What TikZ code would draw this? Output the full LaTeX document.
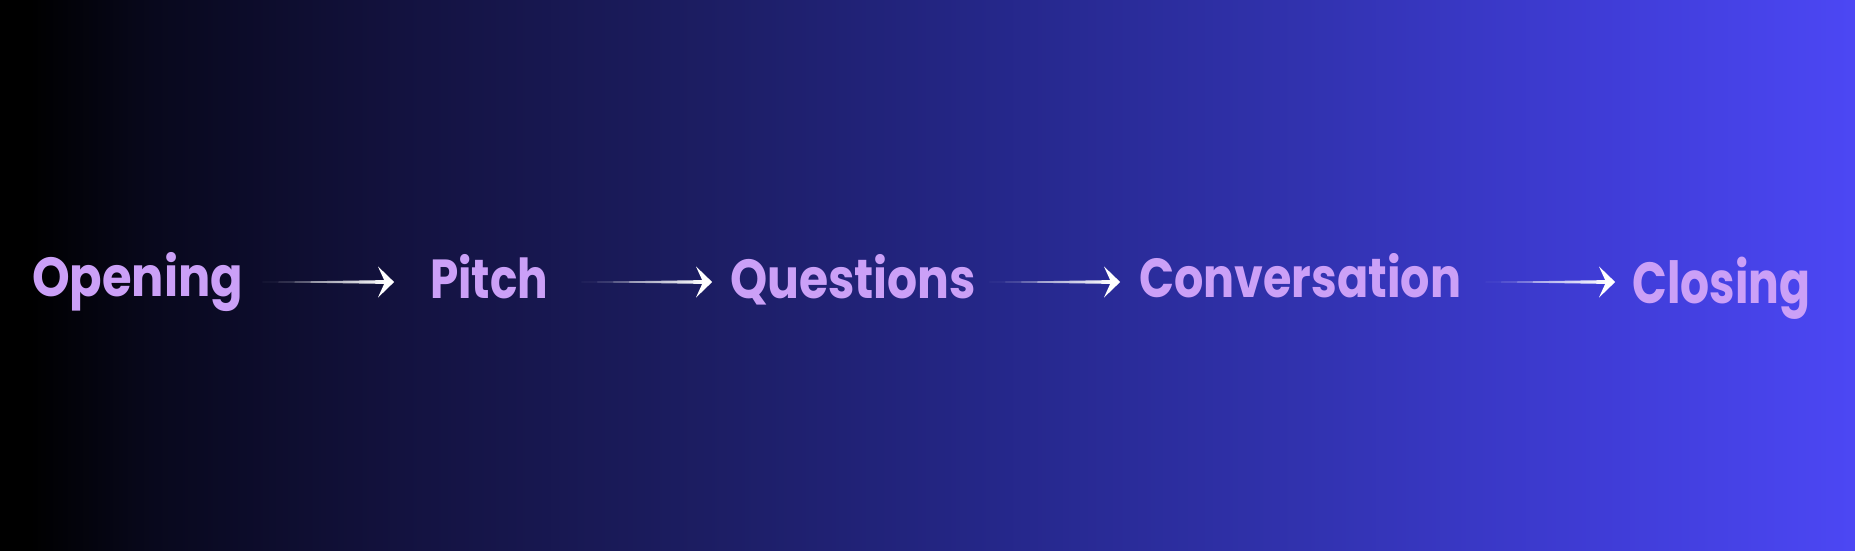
\documentclass[tikz,border=0pt]{standalone}
\usepackage{fontspec}
\newfontfamily\pf{Poppins Bold}
\usetikzlibrary{calc,fadings}
\tikzfading[name=fadein, left color=transparent!75, right color=transparent!0]
\definecolor{bgA}{HTML}{000000}
\definecolor{bgB}{HTML}{08081C}
\definecolor{bgC}{HTML}{13123F}
\definecolor{bgD}{HTML}{1C1D62}
\definecolor{bgE}{HTML}{25278A}
\definecolor{bgF}{HTML}{3132AE}
\definecolor{bgG}{HTML}{3F3CD6}
\definecolor{bgH}{HTML}{4C47F4}
\definecolor{lav}{HTML}{CBA0F7}
\tikzset{
  word/.style={anchor=base west, inner sep=0pt, text=lav, font=\pf\fontsize{55}{60}\selectfont},
}
% tapered connector: #1 start node, #2 end node, gaps #3/#4, axis y = 268
\newcommand\tarrow[4]{%
  \fill[white, path fading=fadein] let \p1=(#1.east), \p2=(#2.west) in
    (\x1+#3,268) -- (\x2-#4-9,269.9) -- (\x2-#4-9,266.1) -- cycle;
  \fill[white] let \p2=(#2.west) in
    (\x2-#4,268) .. controls (\x2-#4-6,274) .. (\x2-#4-16,283.5)
    .. controls (\x2-#4-12,275) .. (\x2-#4-9,268)
    .. controls (\x2-#4-12,261) .. (\x2-#4-16,252.5)
    .. controls (\x2-#4-6,262) .. cycle;
}
\begin{document}
\begin{tikzpicture}[x=1pt,y=1pt]
\useasboundingbox (0,0) rectangle (1855,550);
\fill[left color=bgA,right color=bgA] (0,0) rectangle (30,550);
\fill[left color=bgA,right color=bgB] (30,0) rectangle (150.5,550);
\fill[left color=bgB,right color=bgC] (150,0) rectangle (400.5,550);
\fill[left color=bgC,right color=bgD] (400,0) rectangle (700.5,550);
\fill[left color=bgD,right color=bgE] (700,0) rectangle (1000.5,550);
\fill[left color=bgE,right color=bgF] (1000,0) rectangle (1300.5,550);
\fill[left color=bgF,right color=bgG] (1300,0) rectangle (1600.5,550);
\fill[left color=bgG,right color=bgH] (1600,0) rectangle (1855,550);

\node[word] (op) at (32,254) {\resizebox{211pt}{\height}{Opening}};
\node[word] (pi) at (430,252) {\resizebox{118pt}{\height}{Pitch}};
\node[word] (qu) at (730,252) {\resizebox{246pt}{\height}{Questions}};
\node[word] (co) at (1139,253) {\resizebox{322pt}{\height}{Conversation}};
\node[word, font=\pf\fontsize{58}{62}\selectfont] (cl) at (1632,247) {\resizebox{178pt}{\height}{Closing}};

\tarrow{op}{pi}{19}{36}
\tarrow{pi}{qu}{33}{18}
\tarrow{qu}{co}{13}{19}
\tarrow{co}{cl}{24}{17}
\end{tikzpicture}
\end{document}
